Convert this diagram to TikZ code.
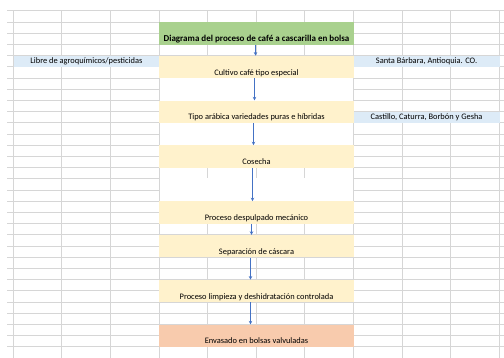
\documentclass[tikz,border=0pt]{standalone}
\usepackage{fontspec}
\setmainfont{Carlito}
\usetikzlibrary{arrows.meta}
\definecolor{titlegreen}{HTML}{A9D18E}
\definecolor{stepyellow}{HTML}{FFF2CC}
\definecolor{packorange}{HTML}{F8CBAD}
\definecolor{noteblue}{HTML}{DDEBF7}
\definecolor{gridgray}{HTML}{D6D6D6}
\definecolor{arrowblue}{HTML}{4472C4}

\begin{document}
\begin{tikzpicture}[x=1pt,y=1pt,
        stepbox/.style={anchor=north west, inner sep=0pt, minimum width=194.4pt, minimum height=22.4pt, text height=19.4pt, text depth=3pt, font=\fontsize{8.4}{10}\selectfont},
        notebox/.style={anchor=north west, inner sep=0pt, fill=noteblue, minimum width=145.8pt, minimum height=11.2pt, text height=8.2pt, text depth=3pt, font=\fontsize{8.4}{10}\selectfont},
        flow/.style={arrowblue, line width=0.8pt, -{Stealth[length=3.5pt,width=3.5pt]}}]
		%\draw[help lines] (0,0) grid (504,358);
        \useasboundingbox (0,0) rectangle (504,358);

        % hoja
        \begin{scope}[xshift=13.3pt]
        \draw[gridgray, line width=0.9pt, xstep=48.6, ystep=11.2] (-6.3,0) grid (490.7,347.5);
        \end{scope}
        \fill[white] (159.7,280.5) rectangle (352.9,257.1);
        \fill[white] (159.7,235.7) rectangle (352.9,212.3);
        \fill[white] (159.7,179.7) rectangle (352.9,156.3);

        \node[stepbox, fill=titlegreen, font=\fontsize{9}{10}\selectfont\bfseries] (titulo) at (159.1,336){Diagrama del proceso de café a cascarilla en bolsa};
        \node[stepbox, fill=stepyellow] (cultivo) at (159.1,302.4){Cultivo café tipo especial};
        \node[stepbox, fill=stepyellow] (tipo) at (159.1,257.6){Tipo arábica variedades puras e híbridas};
        \node[stepbox, fill=stepyellow] (cosecha) at (159.1,212.8){Cosecha};
        \node[stepbox, fill=stepyellow] (despulpado) at (159.1,156.8){Proceso despulpado mecánico};
        \node[stepbox, fill=stepyellow] (separacion) at (159.1,123.2){Separación de cáscara};
        \node[stepbox, fill=stepyellow] (limpieza) at (159.1,78.4){Proceso limpieza y deshidratación controlada};
        \node[stepbox, fill=packorange] (envasado) at (159.1,33.6){Envasado en bolsas valvuladas};

        \node[notebox] (libre) at (13.3,302.4){Libre de agroquímicos/pesticidas};
        \node[notebox] (origen) at (353.5,302.4){Santa Bárbara, Antioquia. CO.};
        \node[notebox] (variedades) at (353.5,246.4){Castillo, Caturra, Borbón y Gesha};

        \draw[flow] ([xshift=-1pt]titulo.south) -- ([xshift=-1pt]cultivo.north);
        \draw[flow] ([xshift=-2pt]cultivo.south) -- ([xshift=-2pt]tipo.north);
        \draw[flow] ([xshift=-3pt]tipo.south) -- ([xshift=-3pt]cosecha.north);
        \draw[flow] ([xshift=-4pt]cosecha.south) -- ([xshift=-4pt]despulpado.north);
        \draw[flow] ([xshift=-5pt]despulpado.south) -- ([xshift=-5pt]separacion.north);
        \draw[flow] ([xshift=-6pt]separacion.south) -- ([xshift=-6pt]limpieza.north);
        \draw[flow] ([xshift=-6pt]limpieza.south) -- ([xshift=-6pt]envasado.north);
\end{tikzpicture}
\end{document}
